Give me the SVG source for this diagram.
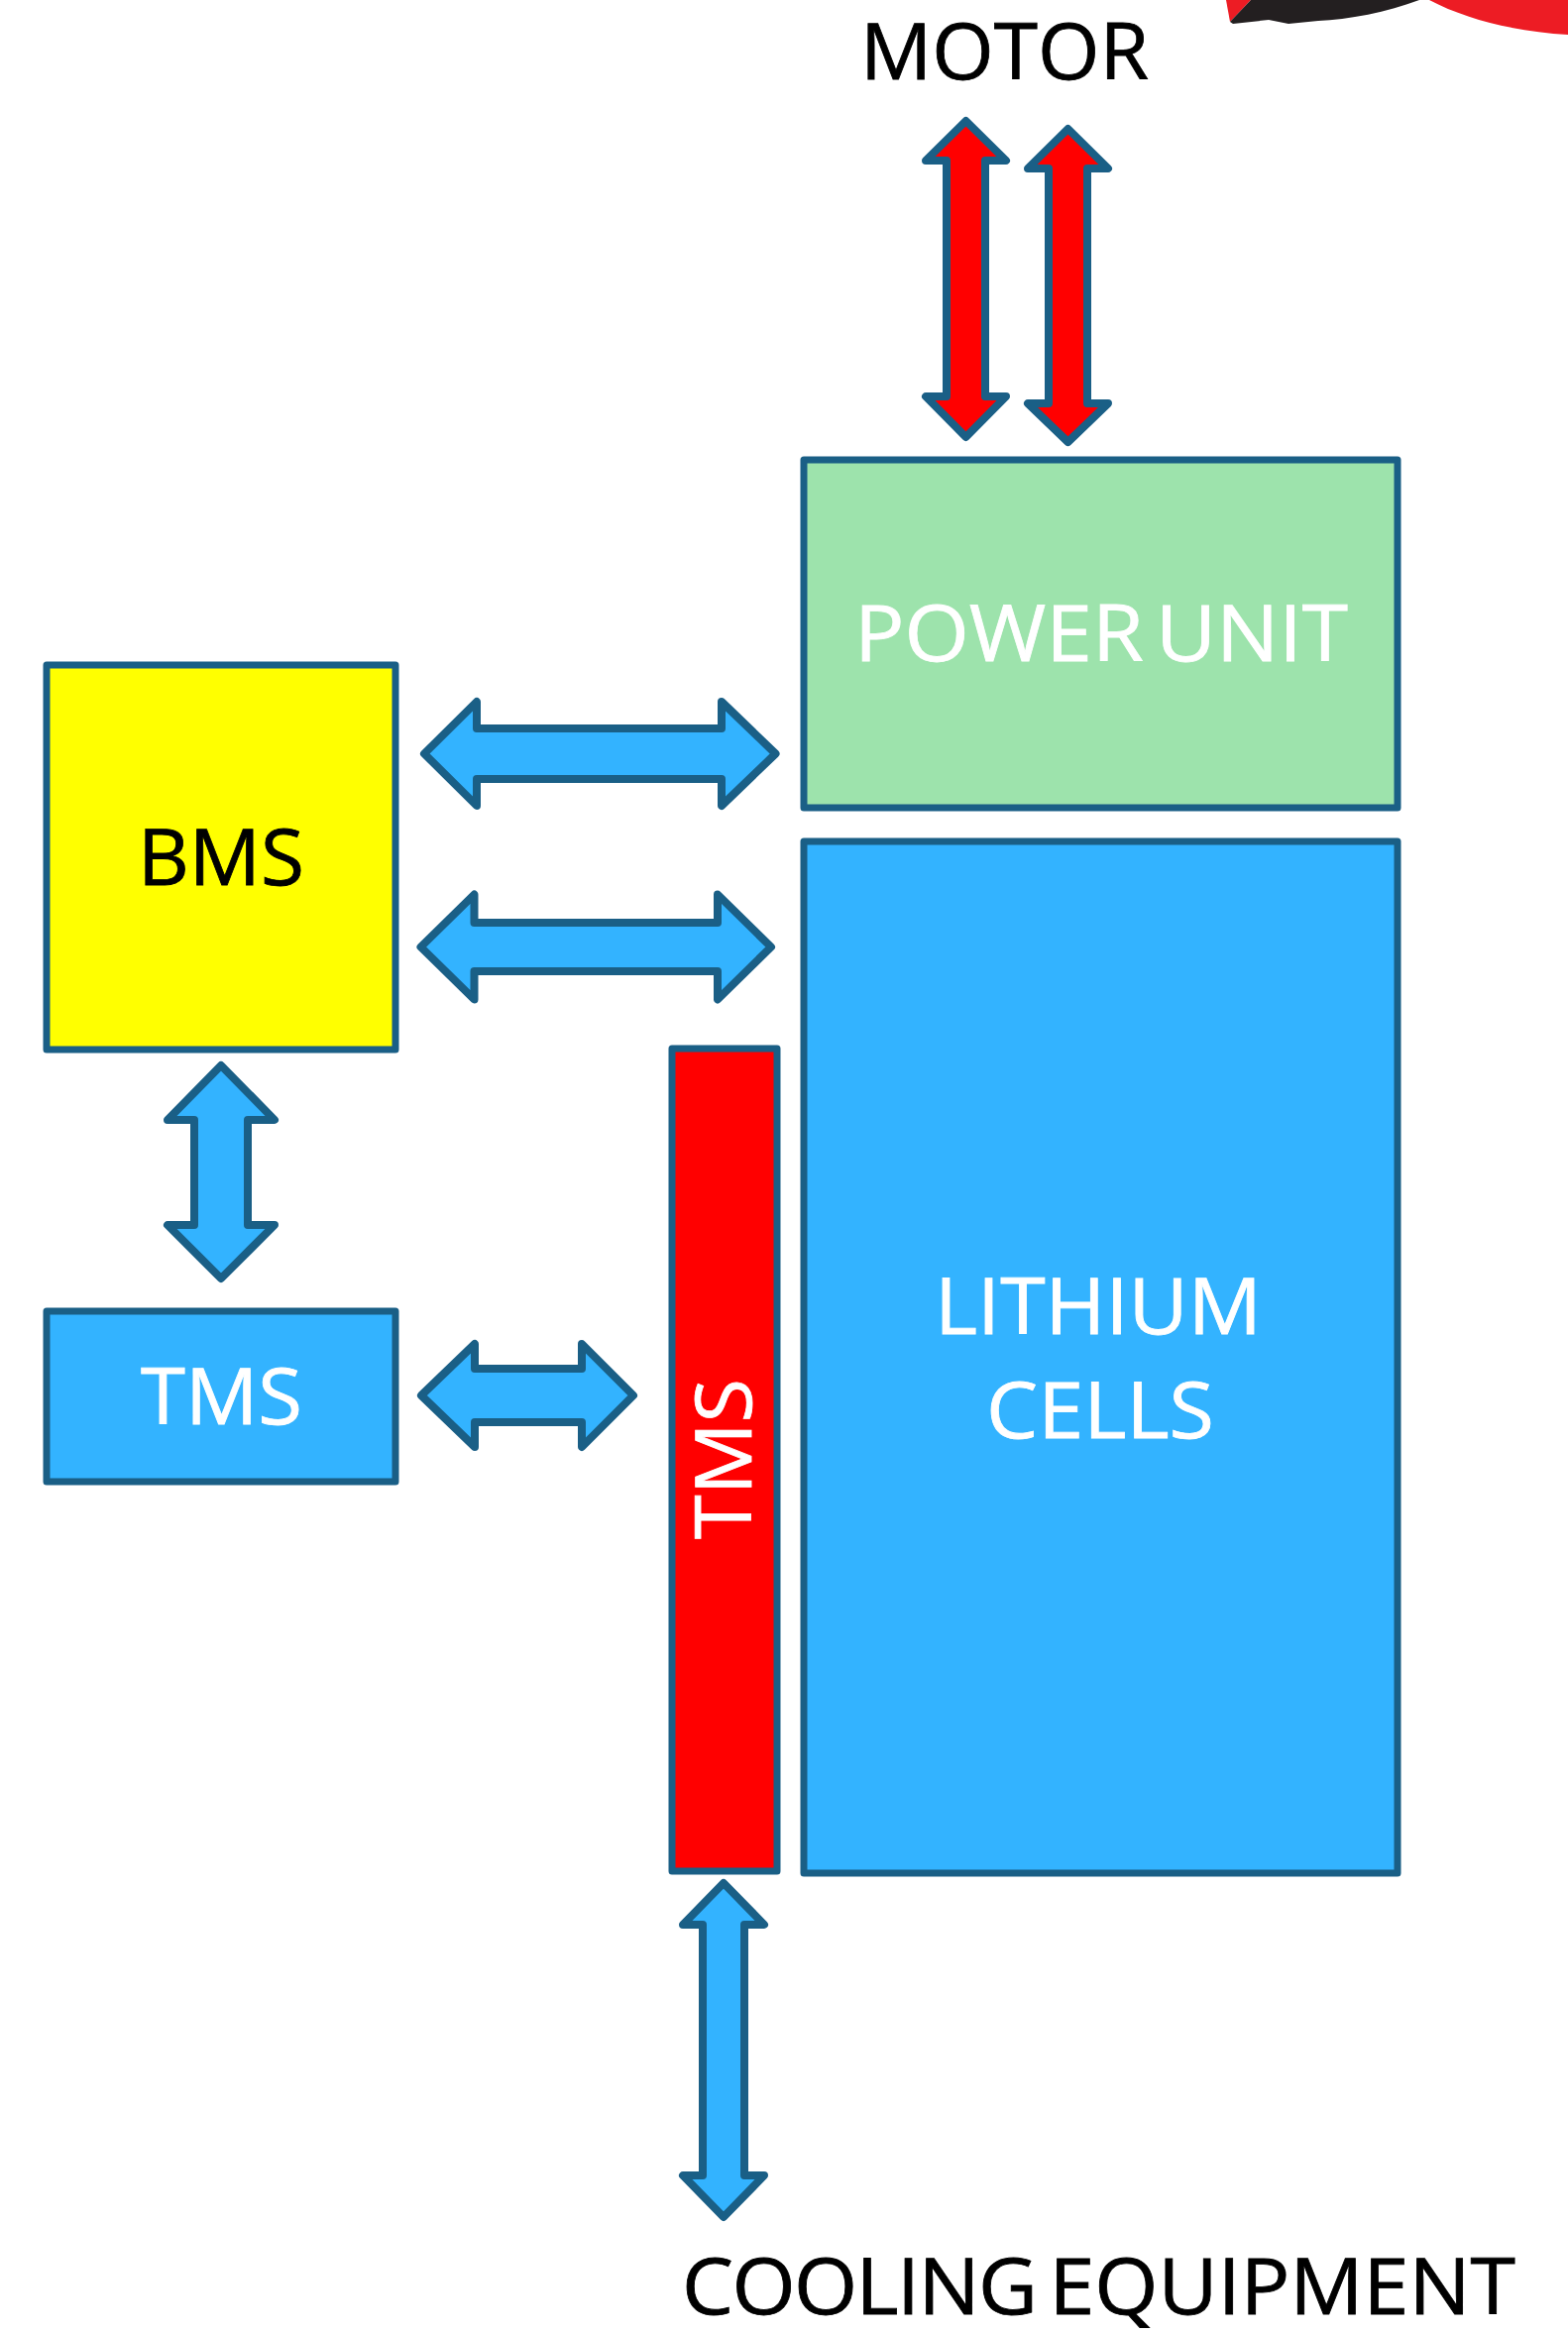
<svg xmlns="http://www.w3.org/2000/svg" width="1582" height="2354" viewBox="0 0 1582 2354">
<style>
.box{stroke:#1A5F86;stroke-width:7;stroke-linejoin:round}
.arrow{stroke:#1A5F86;stroke-width:8;stroke-linejoin:round}
.blue{fill:#33B3FF}
.red{fill:#FF0000}
text{font-family:"Open Sans","Noto Sans","Liberation Sans",sans-serif;font-size:78px;stroke-width:0.8px}
.w{fill:#FFFFFF;stroke:#FFFFFF}
.k{fill:#000000;stroke:#000000}
</style>
<rect width="1582" height="2354" fill="#FFFFFF"/>
<g id="fragment">
<path d="M1237 0H1262L1241 22Z" fill="#ED1C24"/>
<path d="M1262 0H1432C1400 12 1360 20 1330 21L1300 24L1280 20L1244 24L1241 22Z" fill="#231F20"/>
<path d="M1442 0H1582V35C1530 32 1480 20 1442 0Z" fill="#ED1C24"/>
</g>
<g id="connectors">
<polygon class="arrow red" points="974.5,122 1015,162 994,162 994,400 1015,400 974.5,441 934,400 955,400 955,162 934,162"/>
<polygon class="arrow red" points="1077.5,130 1118,170 1097,170 1097,407 1118,407 1077.5,446 1037,407 1058,407 1058,170 1037,170"/>
<polygon class="arrow blue" points="428,760.5 481,708 481,735 728,735 728,708 782.5,760.5 728,813 728,786 481,786 481,813"/>
<polygon class="arrow blue" points="424.5,955.5 478.5,902.5 478.5,931 724,931 724,902.5 778,955.5 724,1008.5 724,980 478.5,980 478.5,1008.5"/>
<polygon class="arrow blue" points="223,1075 277,1130 250,1130 250,1236 277,1236 223,1290 169,1236 196,1236 196,1130 169,1130"/>
<polygon class="arrow blue" points="425,1408 479,1356 479,1381 587,1381 587,1356 639,1408 587,1460 587,1435 479,1435 479,1460"/>
<polygon class="arrow blue" points="730,1900 771,1942 751,1942 751,2195 771,2195 730,2237 689,2195 709,2195 709,1942 689,1942"/>
</g>
<g id="motor-label"><text class="k" x="868" y="80" textLength="291" lengthAdjust="spacingAndGlyphs">MOTOR</text></g>
<g id="power-unit">
<rect class="box" x="811" y="464" width="599" height="351" fill="#9DE3AC"/>
<text class="w" x="862" y="667" textLength="498" lengthAdjust="spacingAndGlyphs" word-spacing="-9">POWER UNIT</text>
</g>
<g id="lithium-cells">
<rect class="box blue" x="811" y="849" width="599" height="1041"/>
<text class="w" x="943" y="1346" textLength="330" lengthAdjust="spacingAndGlyphs">LITHIUM</text>
<text class="w" x="995" y="1451" textLength="230" lengthAdjust="spacingAndGlyphs">CELLS</text>
</g>
<g id="bms">
<rect class="box" x="47" y="671" width="352" height="388" fill="#FFFF00"/>
<text class="k" x="139" y="893" textLength="168" lengthAdjust="spacingAndGlyphs">BMS</text>
</g>
<g id="tms-left">
<rect class="box blue" x="47" y="1323" width="352" height="172"/>
<text class="w" x="142" y="1437" textLength="163" lengthAdjust="spacingAndGlyphs">TMS</text>
</g>
<g id="tms-vertical">
<rect class="box red" x="678" y="1058" width="106" height="830"/>
<text class="w" transform="translate(758 1553) rotate(-90)" x="0" y="0" textLength="162" lengthAdjust="spacingAndGlyphs">TMS</text>
</g>
<g id="cooling-label"><text class="k" x="688" y="2335" textLength="841" lengthAdjust="spacingAndGlyphs" word-spacing="-8"><tspan letter-spacing="-1.5">COOLING</tspan> EQUIPMENT</text></g>
</svg>
